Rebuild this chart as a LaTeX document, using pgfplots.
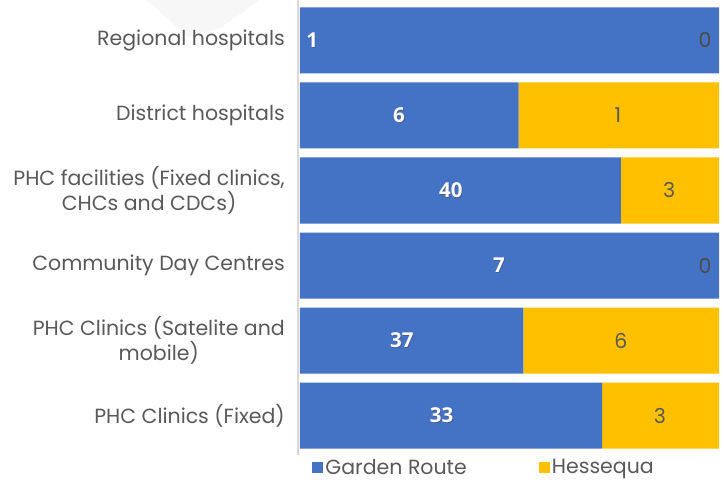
\documentclass[border=0pt]{standalone}
\usepackage{fontspec}
\setmainfont{Poppins}
\newfontfamily\lblfont{Open Sans}
\usepackage{pgfplots}
\pgfplotsset{compat=1.18}
\usetikzlibrary{calc}
\definecolor{gblue}{HTML}{4472C4}
\definecolor{hyellow}{HTML}{FFC000}
\definecolor{txtgray}{HTML}{595959}
\definecolor{axgray}{HTML}{D9D9D9}

\tikzset{
  wl/.style={text=white, font=\lblfont\bfseries\fontsize{20.5}{24}\selectfont},
  ws/.style={text=black!70, opacity=0.5, font=\lblfont\bfseries\fontsize{20.5}{24}\selectfont, xshift=0.8pt, yshift=-0.8pt},
  gl/.style={text=txtgray, font=\fontsize{20.5}{24}\selectfont},
}

\begin{document}
\begin{tikzpicture}
% faint slide background shape, top left
\fill[black!3] (-153pt,453.2pt) -- (-40pt,453.2pt) -- (-80pt,425pt) -- (-112pt,416pt) -- cycle;
\begin{axis}[
  name=ax,
  at={(0pt,0pt)}, anchor=south west,
  scale only axis,
  width=419pt, height=450.4pt,
  xbar stacked,
  bar width=0.88,
  xmin=0, xmax=100,
  ymin=-0.5, ymax=5.5,
  y dir=reverse,
  xtick=\empty,
  ytick={0,1,2,3,4,5},
  yticklabels={Regional hospitals, District hospitals,
    {PHC facilities (Fixed clinics,\\CHCs and CDCs)},
    Community Day Centres,
    {PHC Clinics (Satelite and\\mobile)},
    PHC Clinics (Fixed)},
  yticklabel style={font=\fontsize{20.5}{25}\selectfont, text=txtgray,
    align=center, inner sep=0pt, xshift=-15pt},
  major tick length=0pt,
  axis line style={draw=none},
  clip=false,
  legend columns=2,
  legend image code/.code={\fill[#1] (0pt,-5.5pt) rectangle (11pt,5.5pt);},
  legend style={draw=none, fill=none, at={(0.022,-0.004)}, anchor=north west,
    font=\fontsize{20.5}{24}\selectfont, text=txtgray,
    /tikz/every even column/.append style={column sep=70pt}},
]
% bar lengths as drawn (share of each row, %)
\addplot[draw=none, fill=gblue] coordinates {
  (100,0) (52.2,1) (76.6,2) (100,3) (53.3,4) (72.1,5)};
\addlegendentry{Garden Route}
\addplot[draw=none, fill=hyellow] coordinates {
  (0,0) (47.8,1) (23.4,2) (0,3) (46.7,4) (27.9,5)};
\addlegendentry{Hessequa}

\draw[axgray, line width=2pt] (axis cs:-0.45,-0.54) -- (axis cs:-0.45,5.53);

% label positions (drawn after the axis so they sit on top of the stacked bars)
\coordinate (w0) at (axis cs:2.9,0);
\coordinate (w1) at (axis cs:23.6,1);
\coordinate (w2) at (axis cs:36.0,2);
\coordinate (w3) at (axis cs:47.5,3);
\coordinate (w4) at (axis cs:24.3,4);
\coordinate (w5) at (axis cs:33.8,5);
\coordinate (g1) at (axis cs:75.9,1);
\coordinate (g2) at (axis cs:88.1,2);
\coordinate (g4) at (axis cs:76.6,4);
\coordinate (g5) at (axis cs:85.9,5);
\coordinate (z0) at (axis cs:96.7,0);
\coordinate (z3) at (axis cs:96.7,3);
\end{axis}

\foreach \c/\v in {w0/1, w1/6, w2/40, w3/7, w4/37, w5/33} {
  \node[ws] at (\c) {\v};
  \node[wl] at (\c) {\v};
}
\foreach \c/\v in {g1/1, g2/3, g4/6, g5/3} {
  \node[gl] at (\c) {\v};
}
\node[gl, text=black!70] at (z0) {0};
\node[gl, text=black!70] at (z3) {0};

\pgfresetboundingbox
\path[use as bounding box] ($(ax.north west)+(-300pt,2.8pt)$) rectangle ($(ax.south east)+(5pt,-27.8pt)$);
\end{tikzpicture}
\end{document}
